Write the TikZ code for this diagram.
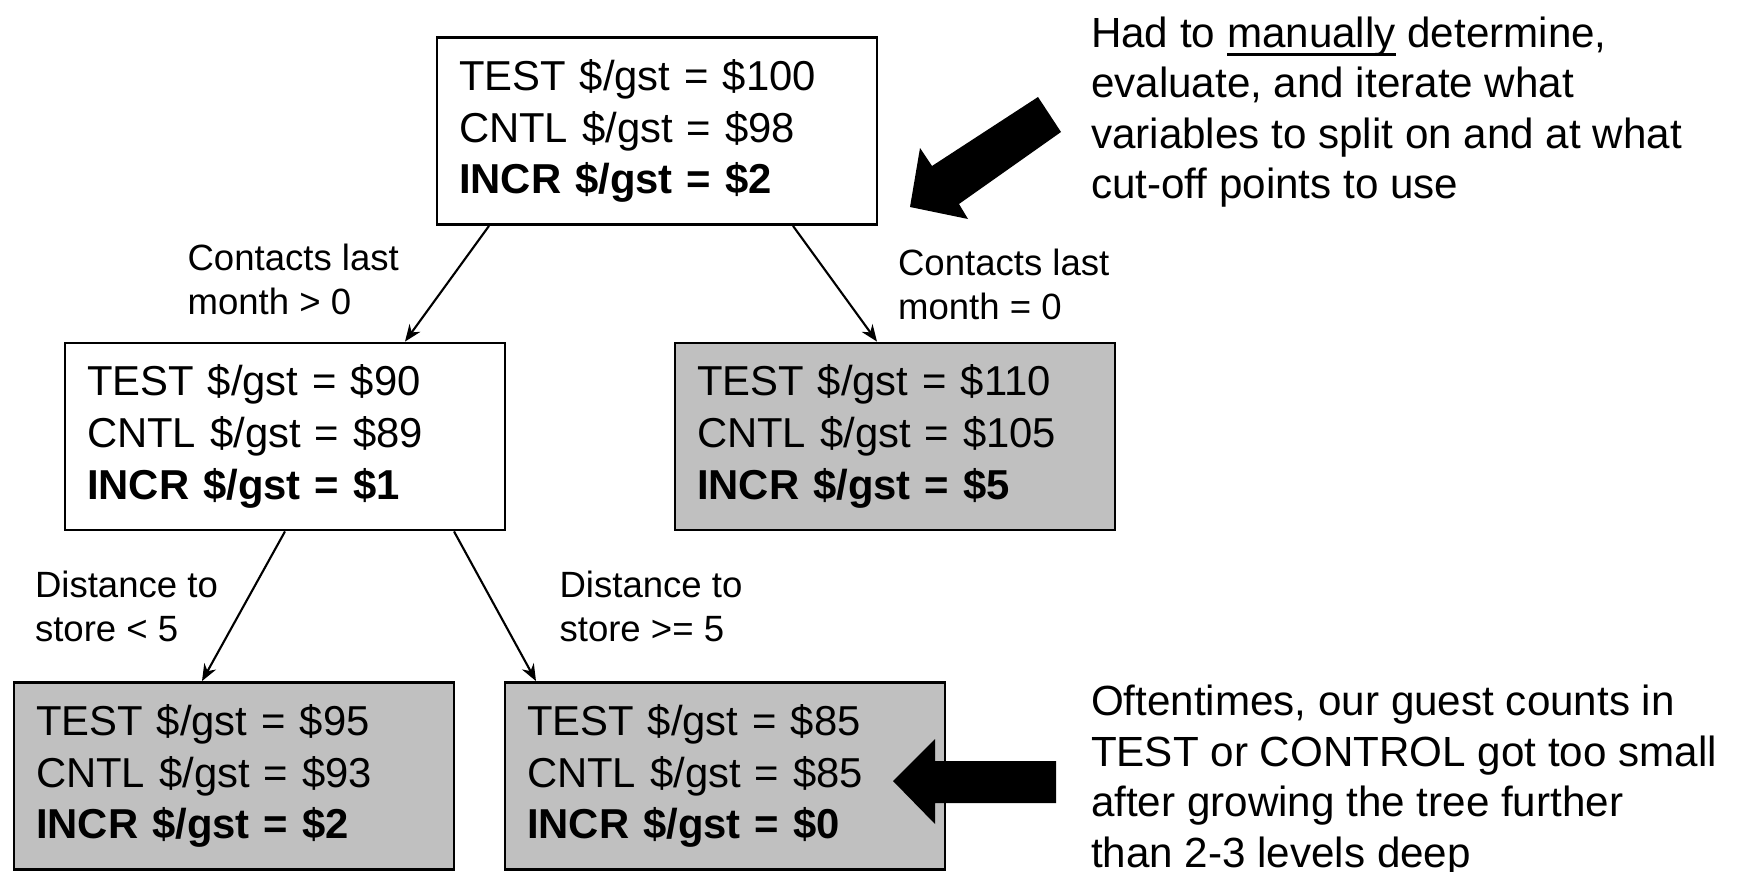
\documentclass[tikz,border=0pt]{standalone}
\usepackage{fontspec}
\setmainfont{Liberation Sans}
\usetikzlibrary{arrows.meta}
\definecolor{leafgrey}{RGB}{192,192,192}
\newcommand{\ulword}[1]{\setbox0\hbox{#1}\rlap{\rule[-2.6pt]{\wd0}{0.8pt}}\box0\relax}

\begin{document}
\begin{tikzpicture}[->,>={Stealth[length=4.8pt,width=3.8pt]},line width=0.6pt,
                    main node/.style={rectangle,draw,line width=0.8pt,text width=3.96cm,inner xsep=0.22cm,minimum height=1.87cm,align=left,font=\fontsize{11.9}{14.7}\selectfont},
                    leaf node/.style={main node,fill=leafgrey},
                    cut label/.style={anchor=north west,inner sep=0pt,align=left,font=\fontsize{10.4}{12.6}\selectfont},
                    note/.style={anchor=north west,inner sep=0pt,align=left,font=\fontsize{12}{14.4}\selectfont}]

  \useasboundingbox (0,0) rectangle (17.41,8.71);

  % the tree
  \node[main node] (root) at (6.57,7.40) {TEST \$/gst = \$100\\CNTL \$/gst = \$98\\\textbf{INCR \$/gst = \$2}};
  \node[main node] (l1) at (2.85,4.345) {TEST \$/gst = \$90\\CNTL \$/gst = \$89\\\textbf{INCR \$/gst = \$1}};
  \node[leaf node] (r1) at (8.95,4.345) {TEST \$/gst = \$110\\CNTL \$/gst = \$105\\\textbf{INCR \$/gst = \$5}};
  \node[leaf node] (l2) at (2.34,0.95) {TEST \$/gst = \$95\\CNTL \$/gst = \$93\\\textbf{INCR \$/gst = \$2}};
  \node[leaf node] (r2) at (7.25,0.95) {TEST \$/gst = \$85\\CNTL \$/gst = \$85\\\textbf{INCR \$/gst = \$0}};

  \path
    ([xshift=-1.68cm]root.south) edge ([xshift=1.20cm]l1.north)
    ([xshift=1.36cm]root.south)  edge ([xshift=-0.18cm]r1.north)
    (l1.south)                   edge ([xshift=-0.32cm]l2.north)
    ([xshift=1.69cm]l1.south)    edge ([xshift=-1.89cm]r2.north);

  \node[cut label] (c1) at (1.865,6.28) {Contacts last\\month > 0};
  \node[cut label] (c2) at (8.97,6.23) {Contacts last\\month = 0};
  \node[cut label] (c3) at (0.34,3.01) {Distance to\\store < 5};
  \node[cut label] (c4) at (5.585,3.01) {Distance to\\store >= 5};

  % side notes
  \node[note] (n1) at (10.90,8.555) {Had to \ulword{manually} determine,\\evaluate, and iterate what\\variables to split on and at what\\cut-off points to use};
  \node[note] (n2) at (10.90,1.87) {Oftentimes, our guest counts in\\TEST or CONTROL got too small\\after growing the tree further\\than 2-3 levels deep};

  \fill (9.10,6.64) -- (9.20,7.23) -- (9.32,7.05) -- (10.38,7.74) -- (10.61,7.39) -- (9.59,6.67) -- (9.68,6.52) -- cycle;
  \fill (8.93,0.90) -- (9.35,1.32) -- (9.35,1.10) -- (10.56,1.10) -- (10.56,0.68) -- (9.35,0.68) -- (9.35,0.47) -- cycle;
\end{tikzpicture}
\end{document}
